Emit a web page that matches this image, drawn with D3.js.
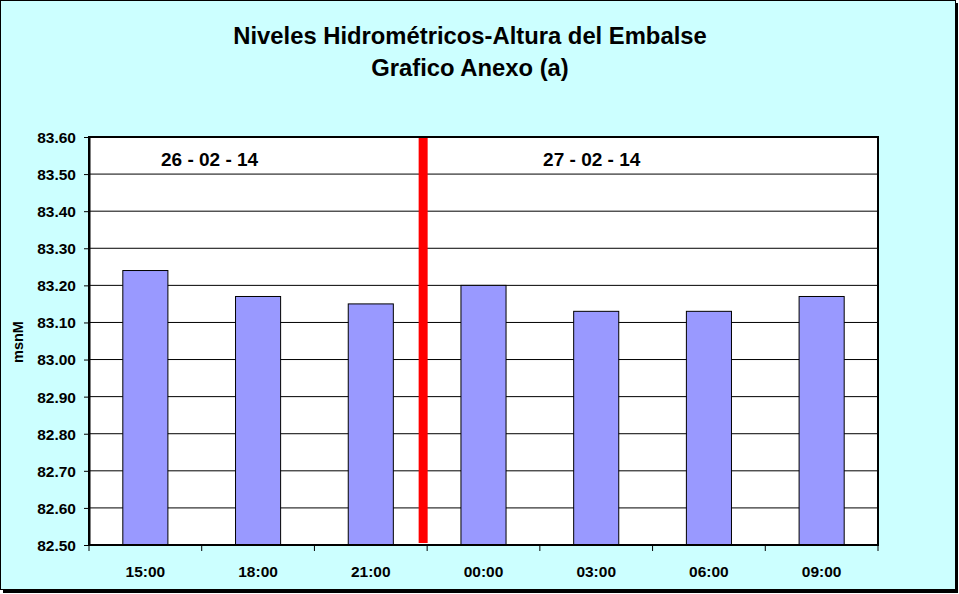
<!DOCTYPE html>
<html lang="es">
<head>
  <meta charset="UTF-8">
  <title>Niveles Hidrométricos-Altura del Embalse</title>
  <script src="https://d3js.org/d3.v7.min.js"></script>
  <style>
    body {
      margin: 0;
      background: #fff;
      font-family: "Liberation Sans", Arial, sans-serif;
    }
    text { font-weight: bold; fill: #000; }
  </style>
</head>
<body>
<div id="chart"></div>
<script>
  const horas = ["15:00", "18:00", "21:00", "00:00", "03:00", "06:00", "09:00"];
  const niveles = [83.24, 83.17, 83.15, 83.20, 83.13, 83.13, 83.17];
  const yTicks = [82.5, 82.6, 82.7, 82.8, 82.9, 83.0, 83.1, 83.2, 83.3, 83.4, 83.5, 83.6];
  const fechas = ["26 - 02 - 14", "27 - 02 - 14"];

  const width = 959, height = 594;
  const margin = {top: 137, right: 81, bottom: 49, left: 89};
  const innerW = width - margin.left - margin.right;
  const innerH = height - margin.top - margin.bottom;

  const svg = d3.select("#chart").append("svg")
    .attr("width", width)
    .attr("height", height);

  // fondo con sombra
  svg.append("rect").attr("x", 3).attr("y", 3).attr("width", 955).attr("height", 590).attr("fill", "#000");
  svg.append("rect").attr("x", 0.5).attr("y", 0.5).attr("width", 955).attr("height", 589)
    .attr("fill", "#CCFFFF").attr("stroke", "#000");

  svg.append("text").attr("x", 470).attr("y", 44).attr("text-anchor", "middle")
    .style("font-size", "23.8px").text("Niveles Hidrométricos-Altura del Embalse");
  svg.append("text").attr("x", 470).attr("y", 76).attr("text-anchor", "middle")
    .style("font-size", "23.8px").text("Grafico Anexo (a)");

  const g = svg.append("g").attr("transform", `translate(${margin.left},${margin.top})`);

  const x = d3.scaleBand().domain(horas).range([0, innerW]).paddingInner(0.6).paddingOuter(0.3);
  const y = d3.scaleLinear().domain([82.5, 83.6]).range([innerH, 0]);

  g.append("rect").attr("width", innerW).attr("height", innerH).attr("fill", "#fff");

  // rejilla
  g.selectAll(".grid").data(yTicks).enter().append("line")
    .attr("x1", 0).attr("x2", innerW)
    .attr("y1", d => y(d)).attr("y2", d => y(d))
    .attr("stroke", "#000").attr("stroke-width", 1);

  g.selectAll(".bar").data(niveles).enter().append("rect")
    .attr("x", (d, i) => x(horas[i]))
    .attr("y", d => y(d))
    .attr("width", x.bandwidth())
    .attr("height", d => innerH - y(d))
    .attr("fill", "#9999FF")
    .attr("stroke", "#000").attr("stroke-width", 1);

  // separador de fechas
  const step = x.step();
  g.append("rect")
    .attr("x", 3 * step - 8.5).attr("y", -1)
    .attr("width", 9).attr("height", y(82.5) - 1)
    .attr("fill", "#FF0000");

  g.append("rect").attr("width", innerW).attr("height", innerH)
    .attr("fill", "none").attr("stroke", "#000").attr("stroke-width", 2);

  const yAxis = g.append("g")
    .call(d3.axisLeft(y).tickValues(yTicks).tickFormat(d3.format(".2f")).tickSize(5).tickSizeOuter(0));
  yAxis.select(".domain").attr("stroke-width", 2);
  yAxis.selectAll("text").style("font-size", "15.5px").attr("x", -13).attr("dy", "0.35em")
    .style("font-family", "Liberation Sans, Arial, sans-serif");

  const xAxis = g.append("g").attr("transform", `translate(0,${innerH})`);
  xAxis.append("line").attr("x1", 0).attr("x2", innerW).attr("stroke", "#000").attr("stroke-width", 2);
  xAxis.selectAll(".tk").data(d3.range(horas.length + 1)).enter().append("line")
    .attr("x1", d => d * step).attr("x2", d => d * step)
    .attr("y1", 0).attr("y2", 6).attr("stroke", "#000");
  xAxis.selectAll(".lbl").data(horas).enter().append("text")
    .attr("x", d => x(d) + x.bandwidth() / 2).attr("y", 32)
    .attr("text-anchor", "middle").style("font-size", "15.5px").text(d => d);

  g.selectAll(".fecha").data(fechas).enter().append("text")
    .attr("x", (d, i) => i === 0 ? 1.07 * step : 4.46 * step)
    .attr("y", 29).attr("text-anchor", "middle")
    .style("font-size", "19px").text(d => d);

  svg.append("text")
    .attr("transform", `translate(23,${margin.top + 205}) rotate(-90)`)
    .attr("text-anchor", "middle").style("font-size", "14.5px").text("msnM");
</script>
</body>
</html>
